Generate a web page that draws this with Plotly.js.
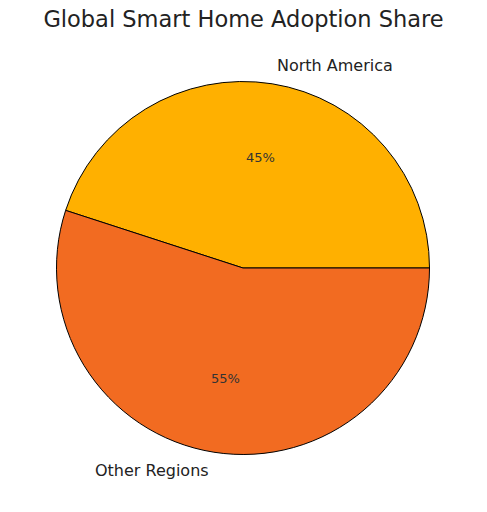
<!DOCTYPE html>
<html>
<head>
<meta charset="utf-8">
<script src="https://cdn.plot.ly/plotly-3.0.1.min.js"></script>
<style>
  html, body { margin: 0; padding: 0; background: #fff; }
  #chart { width: 487px; height: 512px; }
</style>
</head>
<body>
<div id="chart"></div>
<script>
const regions = ['North America', 'Other Regions']
const shares = [45, 55]
const sliceColors = ['#FFB000', '#F26B21']

const W = 487, H = 512
// pie centre and radius in pixels
const cx = 243, cy = 268, R = 186.5

const total = shares.reduce((a, b) => a + b, 0)

// matplotlib-style label placement: start at 3 o'clock, counterclockwise
const annotations = []
let start = 0
shares.forEach((v, i) => {
	const span = v / total * 360
	const mid = (start + span / 2) * Math.PI / 180
	start += span
	const c = Math.cos(mid), s = Math.sin(mid)
	// percentage inside at 0.6 r
	annotations.push({
		text: Math.round(v / total * 100) + '%',
		x: (cx + 0.6 * R * c) / W,
		y: 1 - (cy - 0.6 * R * s) / H,
		xref: 'paper', yref: 'paper',
		xanchor: 'center', yanchor: 'middle',
		showarrow: false,
		font: { family: 'DejaVu Sans', size: 13, color: '#333333' }
	})
	// category label outside at 1.1 r
	annotations.push({
		text: regions[i],
		x: (cx + 1.1 * R * c) / W,
		y: 1 - (cy - 1.1 * R * s) / H,
		xref: 'paper', yref: 'paper',
		xanchor: c >= 0 ? 'left' : 'right', yanchor: 'middle',
		showarrow: false,
		font: { family: 'DejaVu Sans', size: 16, color: '#222222' }
	})
})

// plotly's counterclockwise pies end the first slice at `rotation`,
// so shift back by the first slice to make it start at 3 o'clock
const rotation = 90 - shares[0] / total * 360

const data = [{
	type: 'pie',
	labels: regions,
	values: shares,
	sort: false,
	direction: 'counterclockwise',
	rotation: rotation,
	marker: { colors: sliceColors, line: { color: '#000000', width: 1 } },
	textinfo: 'none',
	hoverinfo: 'label+percent',
	showlegend: false,
	domain: {
		x: [(cx - R) / W, (cx + R) / W],
		y: [(H - cy - R) / H, (H - cy + R) / H]
	}
}]

const layout = {
	width: W,
	height: H,
	margin: { l: 0, r: 0, t: 0, b: 0 },
	paper_bgcolor: '#ffffff',
	title: {
		text: 'Global Smart Home Adoption Share',
		x: 0.5, xanchor: 'center',
		y: 1 - 19 / H, yanchor: 'middle', yref: 'paper',
		font: { family: 'DejaVu Sans', size: 22.5, color: '#222222' }
	},
	annotations: annotations
}

Plotly.newPlot('chart', data, layout, { displayModeBar: false, staticPlot: true })
</script>
</body>
</html>
